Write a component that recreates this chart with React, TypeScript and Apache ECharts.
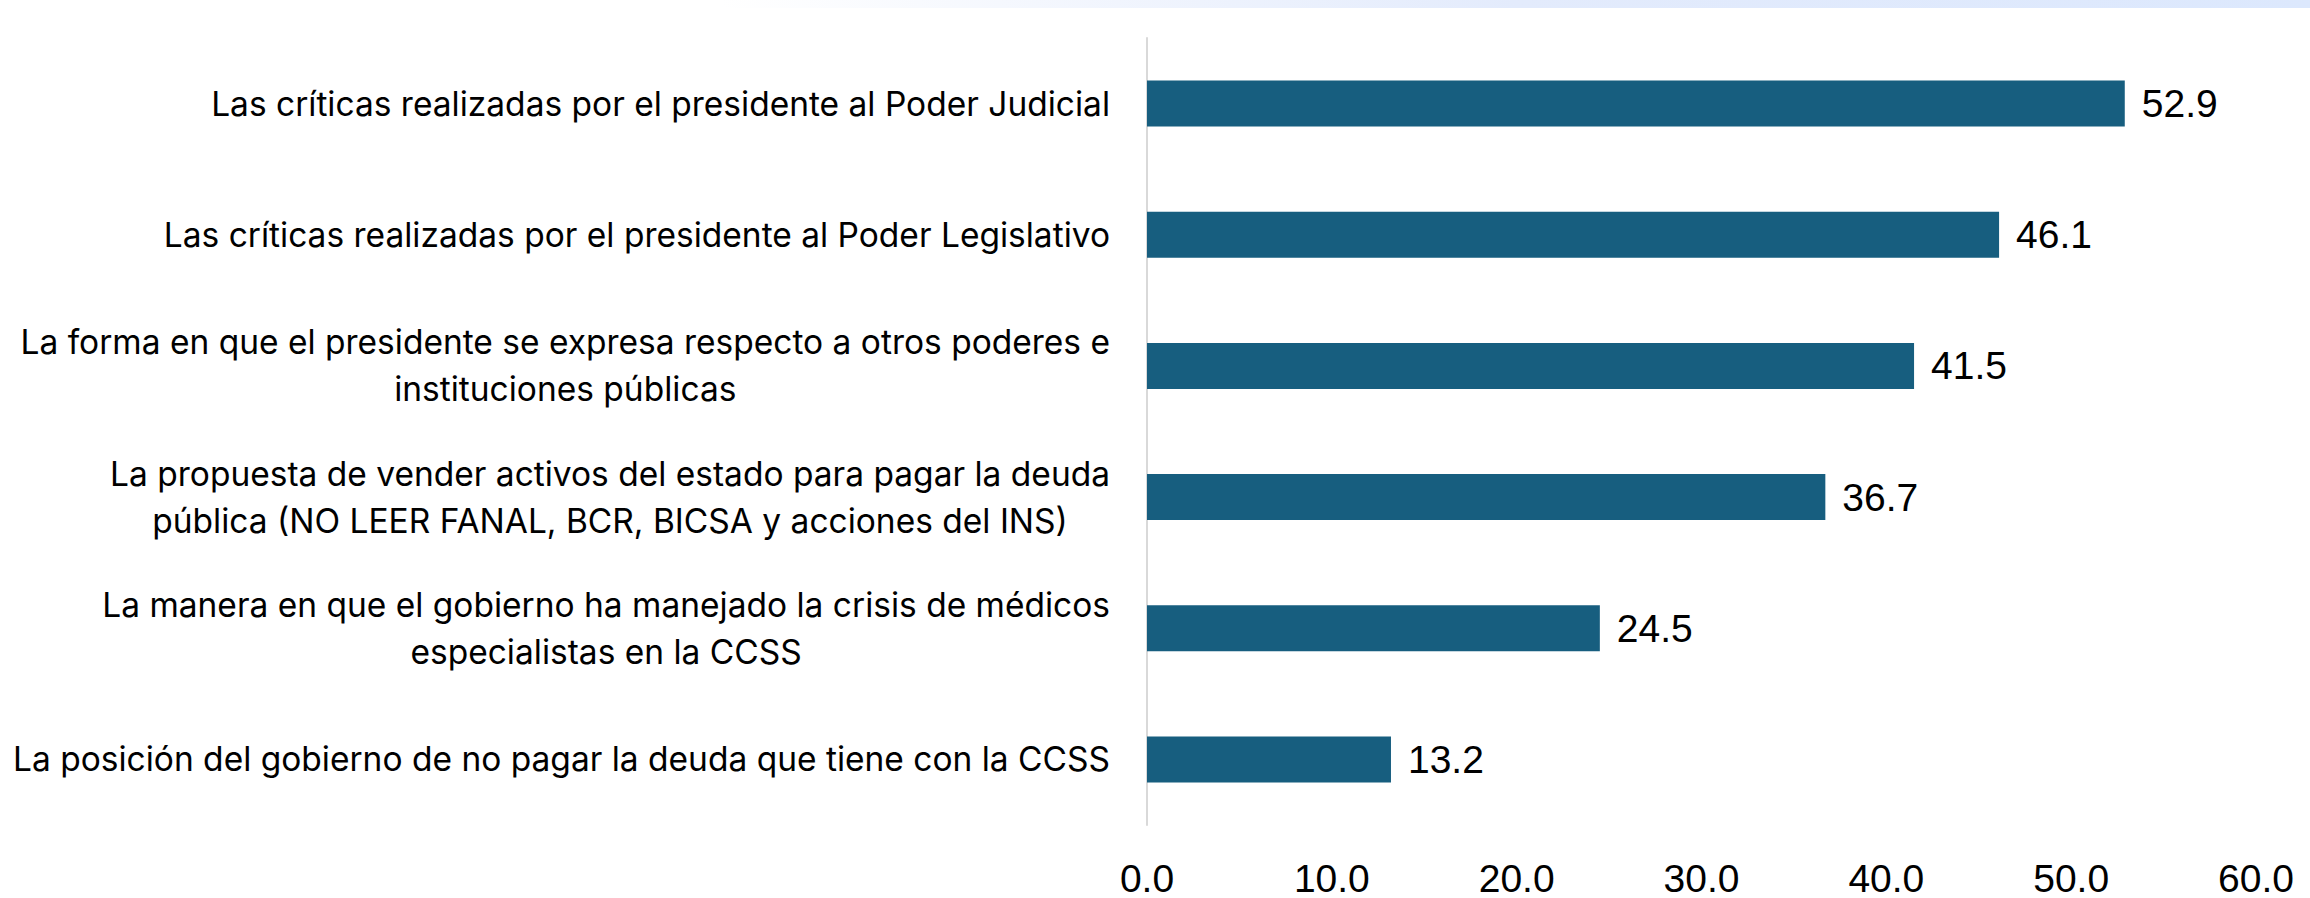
import React, { useEffect, useRef } from "react";
import * as echarts from "echarts";

const categories = [
  "Las críticas realizadas por el presidente al Poder Judicial",
  "Las críticas realizadas por el presidente al Poder Legislativo",
  "La forma en que el presidente se expresa respecto a otros poderes e\ninstituciones públicas",
  "La propuesta de vender activos del estado para pagar la deuda\npública (NO LEER FANAL, BCR, BICSA y acciones del INS)",
  "La manera en que el gobierno ha manejado la crisis de médicos\nespecialistas en la CCSS",
  "La posición del gobierno de no pagar la deuda que tiene con la CCSS",
];
const values = [52.9, 46.1, 41.5, 36.7, 24.5, 13.2];
const xTicks = { min: 0, max: 60, interval: 10 };

export default function App() {
  const ref = useRef<HTMLDivElement>(null);
  useEffect(() => {
    document.body.style.margin = "0";
    const chart = echarts.init(ref.current!, null, { renderer: "svg" });
    chart.setOption({
      animation: false,
      backgroundColor: "#ffffff",
      graphic: [
        {
          type: "rect",
          left: 720,
          top: 0,
          shape: { width: 1590, height: 8 },
          style: {
            fill: new echarts.graphic.LinearGradient(0, 0, 1, 0, [
              { offset: 0, color: "#ffffff" },
              { offset: 0.5, color: "#e3ebfc" },
              { offset: 1, color: "#dce8fd" },
            ]),
          },
          silent: true,
        },
      ],
      grid: { left: 1147, right: 54, top: 38, bottom: 73, containLabel: false },
      xAxis: {
        type: "value",
        min: xTicks.min,
        max: xTicks.max,
        interval: xTicks.interval,
        axisLine: { show: false },
        axisTick: { show: false },
        splitLine: { show: false },
        axisLabel: {
          formatter: (v: number) => v.toFixed(1),
          fontSize: 39,
          lineHeight: 30,
          fontFamily: "Liberation Sans",
          color: "#000000",
          margin: 38,
        },
      },
      yAxis: {
        type: "category",
        inverse: true,
        data: categories,
        axisLine: { show: true, lineStyle: { color: "#d9d9d9", width: 2 } },
        axisTick: { show: false },
        axisLabel: {
          margin: 37,
          align: "right",
          formatter: (v: string) =>
            v
              .split("\n")
              .map((l) => `{c|${l}}`)
              .join("\n"),
          rich: {
            c: {
              fontSize: 33.5,
              fontFamily: "Inter",
              color: "#000000",
              align: "center",
              lineHeight: 47,
            },
          },
        },
      },
      series: [
        {
          type: "bar",
          data: values,
          barWidth: 46,
          itemStyle: { color: "#175e7f" },
          label: {
            show: true,
            position: "right",
            distance: 17,
            fontSize: 39,
            fontFamily: "Liberation Sans",
            color: "#000000",
            formatter: (p: any) => Number(p.value).toFixed(1),
          },
        },
      ],
    });
    return () => chart.dispose();
  }, []);
  return (
    <div
      ref={ref}
      style={{ position: "fixed", left: 0, top: 0, width: 2310, height: 898 }}
    />
  );
}
